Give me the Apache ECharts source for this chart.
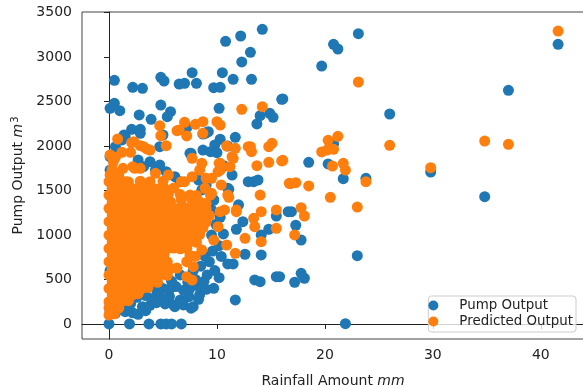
<!DOCTYPE html>
<html>
<head>
<meta charset="utf-8">
<script src="https://cdn.jsdelivr.net/npm/echarts@6/dist/echarts.min.js"></script>
<style>
  html, body { margin: 0; padding: 0; background: #fff; }
  #chart { width: 583px; height: 387px; }
</style>
</head>
<body>
<div id="chart"></div>
<script>
// rainfall (mm), pump output (m3)
var pumpSparse = [
  [41.6,3145],[37.0,2627],[26.0,2361],[29.8,1709],[34.8,1431],[23.1,3264],[20.8,3145],[21.2,3092],
  [19.7,2900],[16.1,2530],[20.8,2024],[18.5,1818],[20.3,1799],[21.7,1634],[23.8,1638],[16.9,1263],
  [17.3,1110],[17.8,944],[23.0,768],[17.8,570],[18.1,514],[17.2,469],[15.8,532],[21.9,3],
  [14.2,3313],[12.2,3238],[10.8,3178],[13.1,3055],[12.3,2946],[7.7,2826],[10.5,2826],[7.0,2706],
  [8.1,2706],[9.7,2657],[10.3,2661],[11.5,2751],[13.2,2751],[16.0,2526],[10.2,2425],[14.0,2342],
  [14.9,2369],[15.2,2324],[13.7,2249],[8.7,2136],[9.0,2151],[11.7,2099],[10.3,2077],[9.8,2013],
  [7.5,1919],[8.7,1956],[9.4,1937],[0.5,2740],[2.2,2661],[3.1,2650],[4.8,2774],[5.1,2732],
  [6.5,2698],[0.5,2481],[0.1,2425],[1.0,2398],[4.8,2462],[5.7,2387],[5.4,2331],[2.8,2350],
  [3.9,2301],[2.1,2189],[2.9,2189],[2.9,2144],[1.4,2125],[5.0,2125],[7.2,2207],[8.9,2144],
  [9.2,2162],[10.0,1926],[11.0,2001],[12.9,1600],[10.7,1776],[11.0,1526]
];
var pumpDense = [
  [0.0,0],[1.9,0],[3.7,0],[4.8,0],[5.3,0],[5.8,0],[6.7,0],
  [0.1,138],[0.6,120],[1.5,138],[2.2,125],[2.7,109],[3.4,150],
  [1.3,215],[2.0,230],[3.1,195],[3.8,210],[4.4,240],[5.2,225],[6.0,214],[6.9,214],[7.8,195],[6.1,195],[7.6,177],
  [2.6,300],[3.4,320],[4.1,290],[4.9,289],[5.6,310],[6.6,270],[7.4,307],[8.3,278],[8.4,330],[6.6,233],[11.7,270],
  [4.4,380],[5.0,400],[5.6,390],[6.2,420],[6.9,380],[7.5,401],[8.2,430],[9.0,390],[9.7,401],
  [5.8,480],[6.6,551],[7.3,470],[8.0,500],[8.8,480],[9.1,551],[10.2,520],[13.5,495],[14.0,476],[15.5,532],
  [7.8,600],[8.5,650],[9.3,700],[8.9,760],[9.6,820],[10.2,880],[11.0,675],[11.5,675],[10.4,760],
  [12.6,784],[14.1,776],[9.8,600],[9.5,1000],[10.6,1012],[9.9,1120],[10.3,1200],[9.5,1282],[9.7,1394],
  [11.8,1065],[12.4,1150],[12.0,1340],[11.1,1514],[8.6,1507],[9.0,1563],[14.1,1001],[14.8,1065],
  [13.4,1600],[13.8,1619],[11.4,1675],[15.5,1214],[16.6,1263],
  [0.1,1600],[0.1,1731],[0.1,1881],[0.6,1993],[1.2,2069],[1.5,2114],[0.3,1520],
  [2.7,1844],[3.8,1825],[4.7,1788],[5.3,1712],[6.1,1656],[6.6,1600],[3.2,1769],[4.3,1731],[8.3,1619],
  [4.7,1993],[7.6,1919],[9.7,1394],
  [0.1,600],[1.0,900],[2.0,1200],[3.0,800],[4.0,1400],[1.0,1300],[2.5,500],[5.0,1000],[6.5,1200]
];
var predSparse = [
  [41.6,3294],[26.0,2009],[34.8,2057],[37.0,2020],[29.8,1757],[23.1,2721],[20.3,2065],[21.2,2110],
  [19.7,1934],[20.2,1956],[20.8,1964],[16.1,1840],[21.7,1807],[20.7,1776],[21.9,1731],[23.8,1600],
  [16.8,1577],[17.3,1589],[18.5,1552],[20.5,1424],[23.0,1315],[17.8,1308],[18.1,1214],[17.2,1001],
  [12.3,2414],[14.2,2443],[7.0,2268],[8.0,2245],[8.7,2275],[10.0,2275],[10.3,2237],[7.2,2114],
  [10.9,2001],[11.7,1975],[13.1,1993],[13.2,1937],[15.1,2031],[14.8,1993],[7.7,1863],[16.0,1833],
  [14.8,1818],[13.7,1780],[11.4,1881],[10.2,1807],[4.7,2230],[4.8,2117],[5.3,2005],[0.8,2080],
  [2.1,2039],[2.9,2005],[3.5,1968],[0.1,1900],[0.6,1874],[1.2,1930],[2.0,1930],[6.5,2181],
  [6.3,2174],[0.4,1825],[0.6,1694],[1.3,1750],[2.2,1769],[2.9,1750],[4.3,1694],[5.5,1675],
  [6.7,1600],[1.6,1600],[2.3,2050],[3.2,1993],[3.8,1956],[8.7,2144],[12.9,1993],[11.5,1863],
  [8.6,1807],[8.4,1731],[10.3,1807],[10.1,1712],[11.2,1769],[2.4,1750],[9.0,1638],[10.3,1731],
  [14.0,1450],[14.1,1263],[15.5,1282],[15.5,1076],[13.4,1188],[13.5,1094],[14.1,925],[12.6,963],
  [11.8,1263],[11.1,1424],[10.7,1282],[16.7,1582],[11.7,795],[10.9,888],[8.6,832],[7.8,644],
  [7.2,532],[11.0,1450],[11.8,1282],[10.3,1263],[7.7,1656],[9.7,944],[10.1,1094],[9.0,1357],
  [10.4,1563],[9.5,1638],[9.5,1469],[8.3,1169],[7.0,981]
];
var predDense = [
  [0.0,100],[0.5,115],
  [0.3,172],[0.9,178],[0.0,180],
  [0.0,250],[0.6,246],[1.2,254],[1.8,262],
  [0.3,325],[0.9,320],[1.5,329],[2.1,322],[2.7,340],
  [0.0,400],[0.6,395],[1.2,404],[1.8,397],[2.4,406],[3.0,396],[3.6,410],
  [0.3,475],[0.9,470],[1.5,479],[2.1,472],[2.7,481],[3.3,471],[3.9,477],[4.5,469],[7.7,494],
  [0.0,550],[0.6,545],[1.2,554],[1.8,547],[2.4,556],[3.0,546],[3.6,552],[4.2,544],[4.8,555],[5.4,548],
  [0.3,625],[0.9,620],[1.5,629],[2.1,622],[2.7,631],[3.3,621],[3.9,627],[4.5,619],[5.1,630],[5.7,623],[6.3,628],
  [0.0,700],[0.6,695],[1.2,704],[1.8,697],[2.4,706],[3.0,696],[3.6,702],[4.2,694],[4.8,705],[5.4,698],[7.2,700],
  [0.3,775],[0.9,770],[1.5,779],[2.1,772],[2.7,781],[3.3,771],[3.9,777],[4.5,769],[5.1,780],[7.5,770],[8.0,760],
  [0.0,850],[0.6,845],[1.2,854],[1.8,847],[2.4,856],[3.0,846],[3.6,852],[4.2,844],[4.8,855],[5.4,848],[6.0,853],[6.6,845],[7.2,851],
  [0.3,925],[0.9,920],[1.5,929],[2.1,922],[2.7,931],[3.3,921],[3.9,927],[4.5,919],[5.1,930],[5.7,923],[6.3,928],[6.9,920],[7.5,926],[8.1,918],
  [0.0,1000],[0.6,995],[1.2,1004],[1.8,997],[2.4,1006],[3.0,996],[3.6,1002],[4.2,994],[4.8,1005],[5.4,998],[6.0,1003],[6.6,995],[7.2,1004],[7.8,997],[8.4,1006],
  [0.3,1075],[0.9,1070],[1.5,1079],[2.1,1072],[2.7,1081],[3.3,1071],[3.9,1077],[4.5,1069],[5.1,1080],[5.7,1073],[6.3,1078],[6.9,1070],[7.5,1079],[8.1,1072],[8.7,1081],
  [0.0,1150],[0.6,1145],[1.2,1154],[1.8,1147],[2.4,1156],[3.0,1146],[3.6,1152],[4.2,1144],[4.8,1155],[5.4,1148],[6.0,1153],[6.6,1145],[7.2,1154],[7.8,1147],[8.4,1156],[9.0,1146],
  [0.3,1225],[0.9,1220],[1.5,1229],[2.1,1222],[2.7,1231],[3.3,1221],[3.9,1227],[4.5,1219],[5.1,1230],[5.7,1223],[6.3,1228],[6.9,1220],[7.5,1229],[8.1,1222],[8.7,1231],[9.3,1221],
  [0.0,1300],[0.6,1295],[1.2,1304],[1.8,1297],[2.4,1306],[3.0,1296],[3.6,1302],[4.2,1294],[4.8,1305],[5.4,1298],[6.0,1303],[6.6,1295],[7.2,1304],[7.8,1297],[8.4,1306],[9.0,1296],
  [0.3,1375],[0.9,1370],[1.5,1379],[2.1,1372],[2.7,1381],[3.3,1371],[3.9,1377],[4.5,1369],[5.1,1380],[5.7,1373],[6.7,1390],[7.7,1394],[8.3,1380],
  [0.0,1450],[0.6,1445],[1.2,1454],[1.8,1447],[2.4,1456],[3.0,1446],[3.6,1452],[4.2,1444],[4.8,1455],[5.5,1460],[6.6,1455],[7.5,1450],[8.1,1445],[9.4,1450],
  [0.3,1525],[0.9,1520],[1.5,1529],[2.1,1522],[2.7,1531],[3.3,1521],[3.9,1527],[4.5,1519],[5.1,1530],[6.0,1530],[8.9,1526],
  [0.0,1600],[0.6,1595],[1.2,1604],[1.8,1597],[2.9,1606],[3.8,1600],[5.0,1605],[7.0,1600],
  [0.1,1675],[0.9,1680],[0.3,1740]
];
var xTicks = [0, 10, 20, 30, 40];
var yTicks = [0, 500, 1000, 1500, 2000, 2500, 3000, 3500];

var chart = echarts.init(document.getElementById('chart'), null, { renderer: 'canvas' });
var font = 'DejaVu Sans';

var option = {
  animation: false,
  color: ['#1f77b4', '#ff7f0e'],
  textStyle: { fontFamily: font },
  grid: {
    left: 82, right: -1, top: 12, bottom: 48,
    containLabel: false, outerBoundsMode: 'none',
    show: true, borderColor: '#444', borderWidth: 1, backgroundColor: 'transparent'
  },
  legend: {
    data: [{ name: 'Pump Output', icon: 'circle' }, { name: 'Predicted Output', icon: 'circle' }],
    orient: 'vertical',
    right: 7, bottom: 55,
    itemWidth: 36, itemHeight: 10, itemGap: 3,
    padding: [3, 3, 4, 0],
    borderColor: '#ccc', borderWidth: 1, borderRadius: 3,
    backgroundColor: 'rgba(255,255,255,0.8)',
    itemStyle: { borderWidth: 0 },
    textStyle: { fontFamily: font, fontSize: 13.4, color: '#222', padding: [0, 0, 0, 3] }
  },
  xAxis: {
    type: 'value', min: -2.5, max: 44,
    name: '{a|Rainfall Amount }{i|mm}',
    nameLocation: 'middle', nameGap: 35,
    nameTextStyle: {
      rich: {
        a: { fontFamily: font, fontSize: 14, color: '#222' },
        i: { fontFamily: font, fontSize: 14, fontStyle: 'italic', color: '#222' }
      }
    },
    splitLine: { show: false },
    axisLine: { lineStyle: { color: '#222' } },
    axisTick: { length: 5, lineStyle: { color: '#222' }, customValues: xTicks },
    axisLabel: { margin: 9, fontSize: 14, color: '#222', fontFamily: font, customValues: xTicks }
  },
  yAxis: {
    type: 'value', min: -169, max: 3508,
    name: '{a|Pump Output }{i|m}{s|3}',
    nameLocation: 'middle', nameGap: 54, nameRotate: 90,
    nameTextStyle: {
      rich: {
        a: { fontFamily: font, fontSize: 14, color: '#222' },
        i: { fontFamily: font, fontSize: 14, fontStyle: 'italic', color: '#222' },
        s: { fontFamily: font, fontSize: 10, color: '#222', verticalAlign: 'top', padding: [0, 0, 6, 1] }
      }
    },
    splitLine: { show: false },
    axisLine: { show: true, lineStyle: { color: '#222' } },
    axisTick: { show: true, length: 5, lineStyle: { color: '#222' }, customValues: yTicks },
    axisLabel: {
      margin: 10, fontSize: 14, color: '#222', fontFamily: font, customValues: yTicks,
      formatter: function (v) { return String(v); }
    }
  },
  series: [
    {
      name: 'Pump Output', type: 'scatter', symbolSize: 11,
      itemStyle: { color: '#1f77b4', opacity: 1, borderWidth: 0 },
      data: pumpSparse.concat(pumpDense)
    },
    {
      name: 'Predicted Output', type: 'scatter', symbolSize: 11,
      itemStyle: { color: '#ff7f0e', opacity: 1, borderWidth: 0 },
      data: predSparse.concat(predDense)
    }
  ]
};
chart.setOption(option);
</script>
</body>
</html>
